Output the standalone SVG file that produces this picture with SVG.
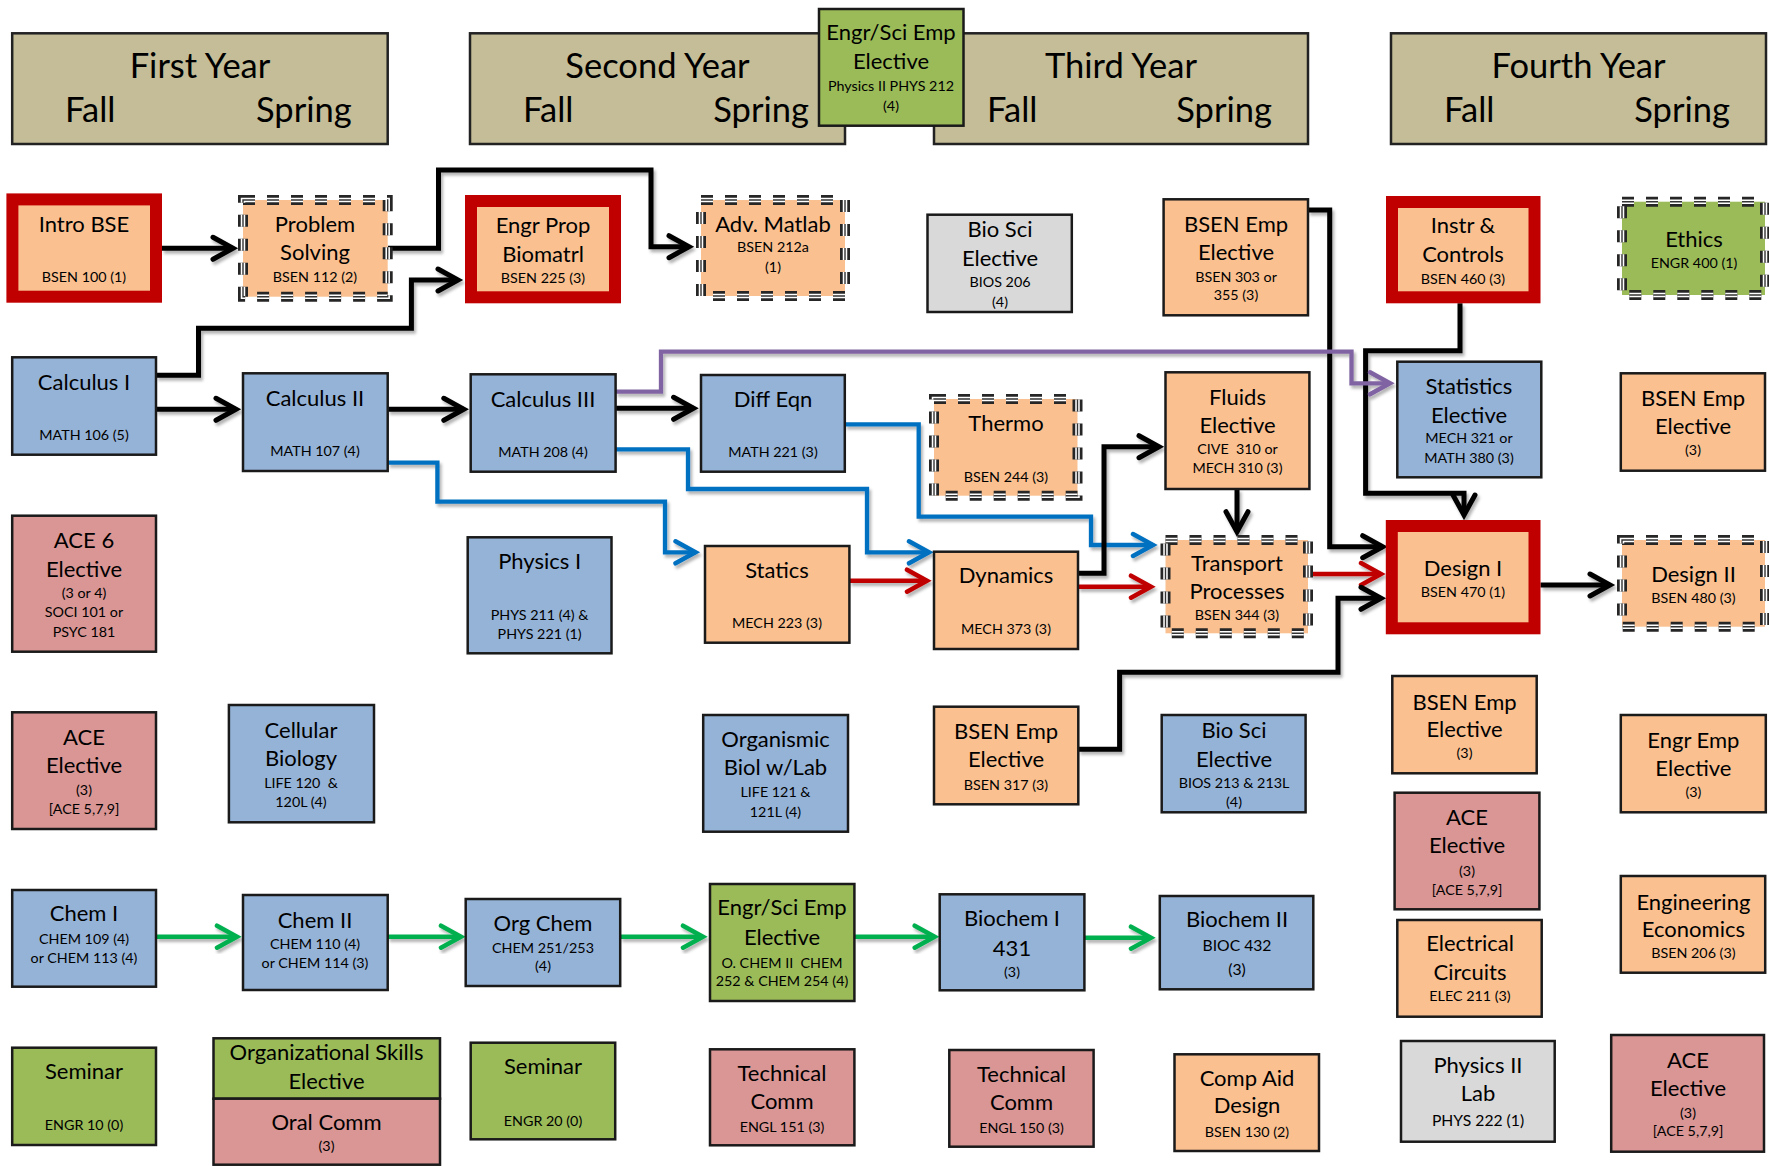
<svg xmlns="http://www.w3.org/2000/svg" width="1769" height="1166" viewBox="0 0 1769 1166">
<style>
.hdr{fill:#C4BD97;stroke:#222;stroke-width:2.5}
.box{stroke:#1a1a1a;stroke-width:2.5}
.or{fill:#FAC090}.bl{fill:#95B3D7}.pk{fill:#D99694}.gr{fill:#9BBB59}.gy{fill:#D9D9D9}
.rb{fill:#FAC090;stroke:#C00000;stroke-width:12}
.d1{fill:none;stroke:#262626;stroke-width:10;stroke-dasharray:12 12}
.d2{fill:none;stroke:#fff;stroke-width:4.5;stroke-dasharray:12 12}
.d3{fill:none;stroke:#333;stroke-width:1.4;stroke-dasharray:12 12}
text{font-family:Lato,'Liberation Sans',sans-serif;fill:#000;text-anchor:middle}
.h{font-size:34.5px}.m{font-size:22px}.s{font-size:14.3px}.s2{font-size:15.7px}
.hl{text-anchor:start}.hr{text-anchor:end}
.c{fill:none;stroke-linejoin:miter}
.k{stroke:#000;stroke-width:5}.b{stroke:#0070C0;stroke-width:4.3}.r{stroke:#C00000;stroke-width:4.5}.g{stroke:#00B050;stroke-width:4.5}.p{stroke:#8064A2;stroke-width:4.3}
</style>
<defs>
<filter id="sh" x="-2%" y="-2%" width="104%" height="104%"><feDropShadow dx="2" dy="3" stdDeviation="1.5" flood-color="#000" flood-opacity="0.3"/></filter>
<marker id="ak" viewBox="-24 -14 32 28" refX="0" refY="0" markerWidth="32" markerHeight="28" markerUnits="userSpaceOnUse" orient="auto"><path d="M-20,-11L0,0L-20,11" fill="none" stroke="#000" stroke-width="5" stroke-linecap="round"/></marker>
<marker id="ab" viewBox="-24 -14 32 28" refX="0" refY="0" markerWidth="32" markerHeight="28" markerUnits="userSpaceOnUse" orient="auto"><path d="M-20,-11L0,0L-20,11" fill="none" stroke="#0070C0" stroke-width="4.5" stroke-linecap="round"/></marker>
<marker id="ar" viewBox="-24 -14 32 28" refX="0" refY="0" markerWidth="32" markerHeight="28" markerUnits="userSpaceOnUse" orient="auto"><path d="M-20,-11L0,0L-20,11" fill="none" stroke="#C00000" stroke-width="4.5" stroke-linecap="round"/></marker>
<marker id="ag" viewBox="-24 -14 32 28" refX="0" refY="0" markerWidth="32" markerHeight="28" markerUnits="userSpaceOnUse" orient="auto"><path d="M-20,-11L0,0L-20,11" fill="none" stroke="#00B050" stroke-width="4.5" stroke-linecap="round"/></marker>
<marker id="ap" viewBox="-24 -14 32 28" refX="0" refY="0" markerWidth="32" markerHeight="28" markerUnits="userSpaceOnUse" orient="auto"><path d="M-20,-11L0,0L-20,11" fill="none" stroke="#8064A2" stroke-width="4.5" stroke-linecap="round"/></marker>
</defs>
<rect width="1769" height="1166" fill="#fff"/>

<g id="headers">
<g id="year1"><rect class="hdr" x="12.2" y="33.3" width="375.5" height="110.7"/><text class="h" x="200" y="78">First Year</text><text class="h hl" x="65" y="122">Fall</text><text class="h hr" x="351.7" y="122">Spring</text></g>
<g id="year2"><rect class="hdr" x="470" y="33.3" width="375" height="110.7"/><text class="h" x="657.5" y="78">Second Year</text><text class="h hl" x="523" y="122">Fall</text><text class="h hr" x="809" y="122">Spring</text></g>
<g id="year3"><rect class="hdr" x="934" y="33.3" width="374" height="110.7"/><text class="h" x="1121" y="78">Third Year</text><text class="h hl" x="987" y="122">Fall</text><text class="h hr" x="1272" y="122">Spring</text></g>
<g id="year4"><rect class="hdr" x="1391" y="33.3" width="375" height="110.7"/><text class="h" x="1578.5" y="78">Fourth Year</text><text class="h hl" x="1444" y="122">Fall</text><text class="h hr" x="1730" y="122">Spring</text></g>
</g>

<g id="connectors">
<g filter="url(#sh)">
<path class="c k" marker-end="url(#ak)" d="M162,248.3H233"/>
<path class="c k" marker-end="url(#ak)" d="M388,248.3H438.5V170H651V246.7H689"/>
<path class="c k" marker-end="url(#ak)" d="M156,375.3H198.5V328.3H411.4V280H458"/>
<path class="c k" marker-end="url(#ak)" d="M156,409.3H236"/>
<path class="c k" marker-end="url(#ak)" d="M387.7,409.3H463.8"/>
<path class="c k" marker-end="url(#ak)" d="M615.6,408.3H693.6"/>
<path class="c b" marker-end="url(#ab)" d="M387.7,462.7H437.4V501.7H665V552.3H695.5"/>
<path class="c b" marker-end="url(#ab)" d="M615.6,449.3H688V489H867V552.3H929"/>
<path class="c b" marker-end="url(#ab)" d="M844.8,424.3H918.7V516.7H1091V545H1153"/>
<path class="c r" marker-end="url(#ar)" d="M849.4,580.7H927"/>
<path class="c r" marker-end="url(#ar)" d="M1078,586.7H1151"/>
<path class="c k" marker-end="url(#ak)" d="M1078,573.3H1104V446.7H1159"/>
<path class="c k" marker-end="url(#ak)" d="M1308,210H1329.7V546.7H1382.7"/>
<path class="c k" marker-end="url(#ak)" d="M1460,303.3V350.7H1365.6V493.3H1464V515"/>
<path class="c r" marker-end="url(#ar)" d="M1310,574H1381"/>
<path class="c k" marker-end="url(#ak)" d="M1078.3,749.3H1119.6V672.3H1338V598.3H1381"/>
<path class="c k" marker-end="url(#ak)" d="M1237,489V531.7"/>
<path class="c k" marker-end="url(#ak)" d="M1540.5,585H1610"/>
<path class="c p" marker-end="url(#ap)" d="M615.6,391.7H661V351.7H1351.5V383.3H1390"/>
<path class="c g" marker-end="url(#ag)" d="M156,936.7H237"/>
<path class="c g" marker-end="url(#ag)" d="M387.7,936.7H461"/>
<path class="c g" marker-end="url(#ag)" d="M620.2,936.7H703"/>
<path class="c g" marker-end="url(#ag)" d="M854.4,936.7H934.7"/>
<path class="c g" marker-end="url(#ag)" d="M1084.4,937.7H1151"/>
</g>
</g>

<g id="engrsci1"><rect class="box gr" x="819" y="9" width="144.5" height="116.7"/><text class="m" x="891" y="40">Engr/Sci Emp</text><text class="m" x="891" y="69.3">Elective</text><text class="s" x="891" y="90.7">Physics II PHYS 212</text><text class="s" x="891" y="110.7">(4)</text></g>

<g id="intro"><rect class="rb" x="12.4" y="199.4" width="143.6" height="97.3"/><text class="m" x="84" y="231.7">Intro BSE</text><text class="s" x="84" y="281.7">BSEN 100 (1)</text></g>
<g id="probsolv"><rect class="or" x="243" y="200" width="144.7" height="96.7"/><rect class="d1" x="243" y="200" width="144.7" height="96.7"/><rect class="d2" x="243" y="200" width="144.7" height="96.7"/><rect class="d3" x="243" y="200" width="144.7" height="96.7"/><text class="m" x="315" y="231.7">Problem</text><text class="m" x="315" y="260">Solving</text><text class="s" x="315" y="281.7">BSEN 112 (2)</text></g>
<g id="engrprop"><rect class="rb" x="471" y="201" width="144" height="96.3"/><text class="m" x="543" y="233.3">Engr Prop</text><text class="m" x="543" y="261.7">Biomatrl</text><text class="s" x="543" y="283.3">BSEN 225 (3)</text></g>
<g id="advmatlab"><rect class="or" x="701" y="200" width="144" height="96"/><rect class="d1" x="701" y="200" width="144" height="96"/><rect class="d2" x="701" y="200" width="144" height="96"/><rect class="d3" x="701" y="200" width="144" height="96"/><text class="m" x="773" y="231.7">Adv. Matlab</text><text class="s" x="773" y="252.3">BSEN 212a</text><text class="s" x="773" y="271.7">(1)</text></g>
<g id="biosci206"><rect class="box gy" x="927.5" y="214.7" width="144.3" height="97.3"/><text class="m" x="1000" y="237.3">Bio Sci</text><text class="m" x="1000" y="265.7">Elective</text><text class="s" x="1000" y="287.3">BIOS 206</text><text class="s" x="1000" y="306.7">(4)</text></g>
<g id="bsen303"><rect class="box or" x="1163.6" y="199.3" width="144.4" height="116"/><text class="m" x="1236" y="231.7">BSEN Emp</text><text class="m" x="1236" y="260">Elective</text><text class="s" x="1236" y="281.7">BSEN 303 or</text><text class="s" x="1236" y="300">355 (3)</text></g>
<g id="instr"><rect class="rb" x="1392" y="202" width="142.5" height="95.3"/><text class="m" x="1463" y="233.3">Instr &amp;</text><text class="m" x="1463" y="261.7">Controls</text><text class="s" x="1463" y="284">BSEN 460 (3)</text></g>
<g id="ethics"><rect class="gr" x="1622" y="201.7" width="143" height="93.3"/><rect class="d1" x="1622" y="201.7" width="143" height="93.3"/><rect class="d2" x="1622" y="201.7" width="143" height="93.3"/><rect class="d3" x="1622" y="201.7" width="143" height="93.3"/><text class="m" x="1694" y="246.7">Ethics</text><text class="s" x="1694" y="268.3">ENGR 400 (1)</text></g>

<g id="calc1"><rect class="box bl" x="12.2" y="357.3" width="143.8" height="97.4"/><text class="m" x="84" y="390">Calculus I</text><text class="s" x="84" y="440">MATH 106 (5)</text></g>
<g id="calc2"><rect class="box bl" x="243" y="373.3" width="144.7" height="97.7"/><text class="m" x="315" y="406">Calculus II</text><text class="s" x="315" y="456">MATH 107 (4)</text></g>
<g id="calc3"><rect class="box bl" x="470.7" y="374.3" width="144.9" height="97.4"/><text class="m" x="543" y="407.3">Calculus III</text><text class="s" x="543" y="456.7">MATH 208 (4)</text></g>
<g id="diffeqn"><rect class="box bl" x="701" y="375" width="143.8" height="96.7"/><text class="m" x="773" y="407.3">Diff Eqn</text><text class="s" x="773" y="457.3">MATH 221 (3)</text></g>
<g id="thermo"><rect class="or" x="934" y="399" width="143.5" height="96.7"/><rect class="d1" x="934" y="399" width="143.5" height="96.7"/><rect class="d2" x="934" y="399" width="143.5" height="96.7"/><rect class="d3" x="934" y="399" width="143.5" height="96.7"/><text class="m" x="1006" y="431">Thermo</text><text class="s" x="1006" y="481.7">BSEN 244 (3)</text></g>
<g id="fluids"><rect class="box or" x="1165.5" y="372.3" width="143.9" height="116.7"/><text class="m" x="1237.5" y="405">Fluids</text><text class="m" x="1237.5" y="433.3">Elective</text><text class="s" x="1237.5" y="454.3" xml:space="preserve">CIVE  310 or</text><text class="s" x="1237.5" y="473.3">MECH 310 (3)</text></g>
<g id="statistics"><rect class="box bl" x="1397.3" y="361.7" width="144" height="115.6"/><text class="m" x="1469" y="394">Statistics</text><text class="m" x="1469" y="422.7">Elective</text><text class="s" x="1469" y="443.3">MECH 321 or</text><text class="s" x="1469" y="462.7">MATH 380 (3)</text></g>
<g id="bsenemp4s"><rect class="box or" x="1620.8" y="373.3" width="144.2" height="97.4"/><text class="m" x="1693" y="406">BSEN Emp</text><text class="m" x="1693" y="434.3">Elective</text><text class="s" x="1693" y="455">(3)</text></g>

<g id="ace6"><rect class="box pk" x="12.2" y="515.7" width="143.8" height="136"/><text class="m" x="84" y="548.3">ACE 6</text><text class="m" x="84" y="576.7">Elective</text><text class="s" x="84" y="598.3">(3 or 4)</text><text class="s" x="84" y="617.3">SOCI 101 or</text><text class="s" x="84" y="636.7">PSYC 181</text></g>
<g id="physics1"><rect class="box bl" x="467.7" y="537.3" width="143.8" height="116"/><text class="m" x="539.6" y="569.3">Physics I</text><text class="s" x="539.6" y="620">PHYS 211 (4) &amp;</text><text class="s" x="539.6" y="639.3">PHYS 221 (1)</text></g>
<g id="statics"><rect class="box or" x="705" y="546" width="144.4" height="96.7"/><text class="m" x="777" y="578.3">Statics</text><text class="s" x="777" y="628.3">MECH 223 (3)</text></g>
<g id="dynamics"><rect class="box or" x="934" y="551.7" width="144" height="97.3"/><text class="m" x="1006" y="583.3">Dynamics</text><text class="s" x="1006" y="634">MECH 373 (3)</text></g>
<g id="transport"><rect class="or" x="1165.5" y="540" width="142.5" height="93.3"/><rect class="d1" x="1165.5" y="540" width="142.5" height="93.3"/><rect class="d2" x="1165.5" y="540" width="142.5" height="93.3"/><rect class="d3" x="1165.5" y="540" width="142.5" height="93.3"/><text class="m" x="1237" y="570.7">Transport</text><text class="m" x="1237" y="599.3">Processes</text><text class="s" x="1237" y="620">BSEN 344 (3)</text></g>
<g id="design1"><rect class="rb" x="1391.8" y="526" width="142.7" height="102.3"/><text class="m" x="1463" y="576">Design I</text><text class="s" x="1463" y="596.7">BSEN 470 (1)</text></g>
<g id="design2"><rect class="or" x="1622" y="540" width="143" height="86.7"/><rect class="d1" x="1622" y="540" width="143" height="86.7"/><rect class="d2" x="1622" y="540" width="143" height="86.7"/><rect class="d3" x="1622" y="540" width="143" height="86.7"/><text class="m" x="1693.5" y="581.7">Design II</text><text class="s" x="1693.5" y="603.3">BSEN 480 (3)</text></g>

<g id="aceelec1"><rect class="box pk" x="12.2" y="712.3" width="143.8" height="116.7"/><text class="m" x="84" y="745">ACE</text><text class="m" x="84" y="772.7">Elective</text><text class="s" x="84" y="795">(3)</text><text class="s" x="84" y="814">[ACE 5,7,9]</text></g>
<g id="cellbio"><rect class="box bl" x="228.9" y="705" width="145.1" height="117.3"/><text class="m" x="301" y="738.3">Cellular</text><text class="m" x="301" y="766">Biology</text><text class="s" x="301" y="787.7" xml:space="preserve">LIFE 120  &amp;</text><text class="s" x="301" y="807.3">120L (4)</text></g>
<g id="organismic"><rect class="box bl" x="703.2" y="715" width="144.8" height="116.7"/><text class="m" x="775.5" y="747.3">Organismic</text><text class="m" x="775.5" y="775">Biol w/Lab</text><text class="s" x="775.5" y="796.7">LIFE 121 &amp;</text><text class="s" x="775.5" y="816.7">121L (4)</text></g>
<g id="bsen317"><rect class="box or" x="934" y="706.7" width="144.3" height="97.6"/><text class="m" x="1006" y="739">BSEN Emp</text><text class="m" x="1006" y="767.3">Elective</text><text class="s" x="1006" y="790">BSEN 317 (3)</text></g>
<g id="biosci213"><rect class="box bl" x="1161.7" y="715" width="143.9" height="97.3"/><text class="m" x="1234" y="738.3">Bio Sci</text><text class="m" x="1234" y="766.7">Elective</text><text class="s" x="1234" y="787.7">BIOS 213 &amp; 213L</text><text class="s" x="1234" y="806.7">(4)</text></g>
<g id="bsenemp4f"><rect class="box or" x="1392.3" y="676" width="144.4" height="97.3"/><text class="m" x="1464.5" y="710">BSEN Emp</text><text class="m" x="1464.5" y="737.3">Elective</text><text class="s" x="1464.5" y="758.3">(3)</text></g>
<g id="engremp"><rect class="box or" x="1620.8" y="715" width="145" height="97.3"/><text class="m" x="1693.4" y="748.3">Engr Emp</text><text class="m" x="1693.4" y="776">Elective</text><text class="s" x="1693.4" y="796.7">(3)</text></g>
<g id="aceelec4f"><rect class="box pk" x="1394.6" y="792.7" width="144.8" height="116.6"/><text class="m" x="1467" y="825">ACE</text><text class="m" x="1467" y="853.3">Elective</text><text class="s" x="1467" y="876">(3)</text><text class="s" x="1467" y="895">[ACE 5,7,9]</text></g>
<g id="engecon"><rect class="box or" x="1620.8" y="876" width="144.4" height="96.7"/><text class="m" x="1693.4" y="910">Engineering</text><text class="m" x="1693.4" y="936.7">Economics</text><text class="s" x="1693.4" y="957.7">BSEN 206 (3)</text></g>

<g id="chem1"><rect class="box bl" x="12.2" y="890" width="143.8" height="96.7"/><text class="m" x="84" y="921">Chem I</text><text class="s" x="84" y="944.3">CHEM 109 (4)</text><text class="s" x="84" y="963.3">or CHEM 113 (4)</text></g>
<g id="chem2"><rect class="box bl" x="243" y="895" width="144.7" height="95"/><text class="m" x="315" y="927.7">Chem II</text><text class="s" x="315" y="949.3">CHEM 110 (4)</text><text class="s" x="315" y="967.7">or CHEM 114 (3)</text></g>
<g id="orgchem"><rect class="box bl" x="465.7" y="899" width="154.5" height="87"/><text class="m" x="543" y="931">Org Chem</text><text class="s" x="543" y="952.7">CHEM 251/253</text><text class="s" x="543" y="971">(4)</text></g>
<g id="engrsci2"><rect class="box gr" x="710" y="884" width="144.4" height="117"/><text class="m" x="782" y="915">Engr/Sci Emp</text><text class="m" x="782" y="945.3">Elective</text><text class="s" x="782" y="967.7" xml:space="preserve">O. CHEM II  CHEM</text><text class="s" x="782" y="986">252 &amp; CHEM 254 (4)</text></g>
<g id="biochem1"><rect class="box bl" x="939.7" y="894.3" width="144.7" height="96"/><text class="m" x="1012" y="926">Biochem I</text><text class="m" x="1012" y="956">431</text><text class="s" x="1012" y="976.7">(3)</text></g>
<g id="biochem2"><rect class="box bl" x="1159.8" y="896" width="153.5" height="93.3"/><text class="m" x="1237" y="926.7">Biochem II</text><text class="s2" x="1237" y="951">BIOC 432</text><text class="s2" x="1237" y="975.3">(3)</text></g>
<g id="elec"><rect class="box or" x="1397.3" y="920" width="144.4" height="96.7"/><text class="m" x="1470" y="951">Electrical</text><text class="m" x="1470" y="980">Circuits</text><text class="s" x="1470" y="1001">ELEC 211 (3)</text></g>

<g id="seminar1"><rect class="box gr" x="12.2" y="1047.7" width="143.8" height="97.3"/><text class="m" x="84" y="1079.3">Seminar</text><text class="s" x="84" y="1130">ENGR 10 (0)</text></g>
<g id="orgskills"><rect class="box gr" x="213.5" y="1038.3" width="226.5" height="60.4"/><rect class="box pk" x="213.5" y="1098.7" width="226.5" height="66"/><text class="m" x="326.5" y="1060">Organizational Skills</text><text class="m" x="326.5" y="1089.3">Elective</text><text class="m" x="326.5" y="1130">Oral Comm</text><text class="s" x="326.5" y="1151">(3)</text></g>
<g id="seminar2"><rect class="box gr" x="470.7" y="1042.7" width="144.5" height="96.6"/><text class="m" x="543" y="1074.3">Seminar</text><text class="s" x="543" y="1126">ENGR 20 (0)</text></g>
<g id="techcomm1"><rect class="box pk" x="710" y="1049.3" width="144.4" height="96"/><text class="m" x="782" y="1081">Technical</text><text class="m" x="782" y="1109.3">Comm</text><text class="s" x="782" y="1132">ENGL 151 (3)</text></g>
<g id="techcomm2"><rect class="box pk" x="949.3" y="1050" width="144.3" height="96.7"/><text class="m" x="1021.5" y="1082">Technical</text><text class="m" x="1021.5" y="1110">Comm</text><text class="s" x="1021.5" y="1132.7">ENGL 150 (3)</text></g>
<g id="compaid"><rect class="box or" x="1174.5" y="1054.3" width="144.5" height="96.7"/><text class="m" x="1247" y="1086">Comp Aid</text><text class="m" x="1247" y="1113.3">Design</text><text class="s" x="1247" y="1136.7">BSEN 130 (2)</text></g>
<g id="physics2lab"><rect class="box gy" x="1401" y="1041" width="153.7" height="100.7"/><text class="m" x="1478" y="1072.7">Physics II</text><text class="m" x="1478" y="1101">Lab</text><text class="s2" x="1478" y="1126">PHYS 222 (1)</text></g>
<g id="aceelec4s"><rect class="box pk" x="1611.2" y="1035" width="152.8" height="116.7"/><text class="m" x="1688" y="1067.7">ACE</text><text class="m" x="1688" y="1096">Elective</text><text class="s" x="1688" y="1117.7">(3)</text><text class="s" x="1688" y="1136">[ACE 5,7,9]</text></g>
</svg>
